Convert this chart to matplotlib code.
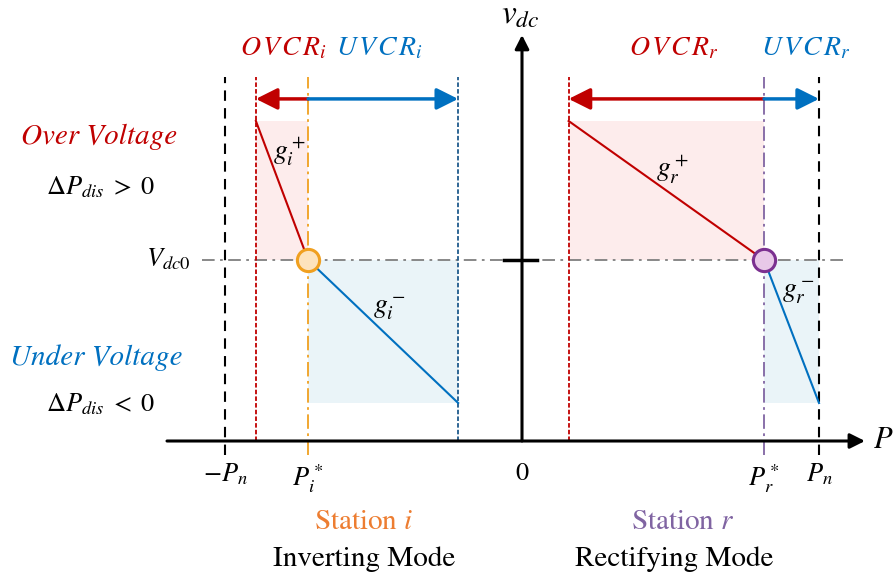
import matplotlib
matplotlib.use("Agg")
import matplotlib.pyplot as plt
from matplotlib.patches import Rectangle

plt.rcParams['mathtext.fontset'] = 'stix'
plt.rcParams['font.family'] = ['STIXGeneral', 'DejaVu Sans']

# ---- schematic values (P in per-unit of P_n, v in per-unit of V_dc0) ----
P_n = 1.0
P_i_star = -0.72
P_r_star = 0.815
OVCR_i = -0.896
UVCR_i = -0.215
OVCR_r = 0.157
V_dc0 = 1.0
v_max = 1.768
v_min = 0.21

tick_pos = [-P_n, P_i_star, 0.0, P_r_star, P_n]
tick_labels = [r'$-P_n$', r'$P_i^*$', r'$0$', r'$P_r^*$', r'$P_n$']

# droop characteristic segments (P, v)
g_i_plus = ([OVCR_i, P_i_star], [v_max, V_dc0])
g_i_minus = ([P_i_star, UVCR_i], [V_dc0, v_min])
g_r_plus = ([OVCR_r, P_r_star], [v_max, V_dc0])
g_r_minus = ([P_r_star, P_n], [V_dc0, v_min])

RED = '#c00000'
BLUE = '#0070c0'
DBLUE = '#1f5a8c'
ORANGE = '#f0a020'
ORANGE_T = '#ed7d31'
PURPLE = '#8064a2'
PINK = '#fdecec'
LBLUE = '#eaf4f8'
GRAY = '#7f7f7f'

fig = plt.figure(figsize=(8.96, 5.79), dpi=100)
ax = fig.add_axes([0, 0, 1, 1])
sx, ox = 297.0, 522.0
sy, oy = 181.0, 441.0
ax.set_xlim(-ox / sx, (896 - ox) / sx)
ax.set_ylim((oy - 579) / sy, oy / sy)
ax.axis('off')

arrow_y = 1.89
line_top = 2.01
below = -0.08

# shaded regions
ax.add_patch(Rectangle((OVCR_i, V_dc0), P_i_star - OVCR_i, v_max - V_dc0, fc=PINK, ec='none', zorder=0))
ax.add_patch(Rectangle((P_i_star, v_min), UVCR_i - P_i_star, V_dc0 - v_min, fc=LBLUE, ec='none', zorder=0))
ax.add_patch(Rectangle((OVCR_r, V_dc0), P_r_star - OVCR_r, v_max - V_dc0, fc=PINK, ec='none', zorder=0))
ax.add_patch(Rectangle((P_r_star, v_min), P_n - P_r_star, V_dc0 - v_min, fc=LBLUE, ec='none', zorder=0))

# V_dc0 reference line
ax.plot([-1.077, 1.085], [V_dc0, V_dc0], color=GRAY, lw=1.3, ls=(0, (7, 3, 1.5, 3)), zorder=1)

# vertical boundary lines
ax.plot([-P_n, -P_n], [below, line_top], color='black', lw=1.5, ls=(0, (5, 3.5)), zorder=2)
ax.plot([P_n, P_n], [below, line_top], color='black', lw=1.5, ls=(0, (5, 3.5)), zorder=2)
ax.plot([OVCR_i, OVCR_i], [0, line_top], color=RED, lw=1.3, ls=(0, (2.5, 1.2)), zorder=2)
ax.plot([OVCR_r, OVCR_r], [0, line_top], color=RED, lw=1.3, ls=(0, (2.5, 1.2)), zorder=2)
ax.plot([UVCR_i, UVCR_i], [0, line_top], color=DBLUE, lw=1.3, ls=(0, (2.5, 1.2)), zorder=2)
ax.plot([P_i_star, P_i_star], [below, line_top], color=ORANGE, lw=1.3, ls=(0, (8, 2.5, 1.5, 2.5)), zorder=2)
ax.plot([P_r_star, P_r_star], [below, line_top], color=PURPLE, lw=1.3, ls=(0, (8, 2.5, 1.5, 2.5)), zorder=2)

# droop lines
ax.plot(*g_i_plus, color=RED, lw=1.5, zorder=3)
ax.plot(*g_r_plus, color=RED, lw=1.5, zorder=3)
ax.plot(*g_i_minus, color=BLUE, lw=1.5, zorder=3)
ax.plot(*g_r_minus, color=BLUE, lw=1.5, zorder=3)

# operating points
ax.plot([P_i_star], [V_dc0], 'o', ms=16, mfc='#fde3bd', mec=ORANGE, mew=2.2, zorder=5)
ax.plot([P_r_star], [V_dc0], 'o', ms=16, mfc='#e8c8e8', mec='#7b3090', mew=2.2, zorder=5)

# range arrows
def harrow(x0, x1, y, c):
    ax.annotate('', xy=(x1, y), xytext=(x0, y),
                arrowprops=dict(arrowstyle='-|>,head_length=0.5,head_width=0.25',
                                color=c, lw=2.5, mutation_scale=26,
                                shrinkA=0, shrinkB=0), zorder=4)

harrow(P_i_star, OVCR_i, arrow_y, RED)
harrow(P_i_star, UVCR_i, arrow_y, BLUE)
harrow(P_r_star, OVCR_r, arrow_y, RED)
harrow(P_r_star, P_n, arrow_y, BLUE)

# axes
ax.annotate('', xy=((865 - ox) / sx, 0), xytext=((167 - ox) / sx, 0),
            arrowprops=dict(arrowstyle='-|>,head_length=0.6,head_width=0.3', color='black',
                            lw=2.2, mutation_scale=15, shrinkA=0, shrinkB=0), zorder=6)
ax.annotate('', xy=(0, (oy - 35) / sy), xytext=(0, 0),
            arrowprops=dict(arrowstyle='-|>,head_length=0.55,head_width=0.28', color='black',
                            lw=2.2, mutation_scale=15, shrinkA=0, shrinkB=0), zorder=6)
ax.plot([-0.06, 0.05], [V_dc0, V_dc0], color='black', lw=2.5, zorder=6)

# tick labels
for p, lab in zip(tick_pos, tick_labels):
    ax.text(p, -0.115, lab, ha='center', va='top', fontsize=19)
ax.text(1.215, 0.0, r'$P$', ha='center', va='center', fontsize=22)
ax.text(-0.005, 2.35, r'$v_{dc}$', ha='center', va='center', fontsize=24)
ax.text(-1.115, V_dc0, r'$V_{dc0}$', ha='right', va='center', fontsize=19)

# region labels (letter-spaced like the original)
def spaced(s, sub):
    return '$' + r'\hspace{0.12}'.join(s) + '_' + sub + '$'

ax.text(-0.802, 2.17, spaced('OVCR', 'i'), color=RED, ha='center', va='center', fontsize=20)
ax.text(-0.48, 2.17, spaced('UVCR', 'i'), color=BLUE, ha='center', va='center', fontsize=20)
ax.text(0.51, 2.17, spaced('OVCR', 'r'), color=RED, ha='center', va='center', fontsize=20)
ax.text(0.955, 2.17, spaced('UVCR', 'r'), color=BLUE, ha='center', va='center', fontsize=20)

# curve labels
ax.text(-0.782, 1.6, r'$g_i^+$', ha='center', va='center', fontsize=20)
ax.text(-0.447, 0.73, r'$g_i^-$', ha='center', va='center', fontsize=20)
ax.text(0.505, 1.5, r'$g_r^+$', ha='center', va='center', fontsize=20)
ax.text(0.93, 0.82, r'$g_r^-$', ha='center', va='center', fontsize=20)

# left annotations
ax.text(-1.424, 1.68, 'Over Voltage', color=RED, style='italic', ha='center', va='center', fontsize=21)
ax.text(-1.42, 1.4, r'$\Delta P_{dis}\;>\;0$', ha='center', va='center', fontsize=19)
ax.text(-1.434, 0.46, 'Under Voltage', color=BLUE, style='italic', ha='center', va='center', fontsize=21)
ax.text(-1.42, 0.2, r'$\Delta P_{dis}\;<\;0$', ha='center', va='center', fontsize=19)

# station labels
ax.text(-0.532, -0.45, r'Station $i$', color=ORANGE_T, ha='center', va='center', fontsize=21)
ax.text(-0.532, -0.655, 'Inverting Mode', ha='center', va='center', fontsize=21)
ax.text(0.542, -0.45, r'Station $r$', color=PURPLE, ha='center', va='center', fontsize=21)
ax.text(0.512, -0.655, 'Rectifying Mode', ha='center', va='center', fontsize=21)

fig.savefig('out.png', dpi=100)
